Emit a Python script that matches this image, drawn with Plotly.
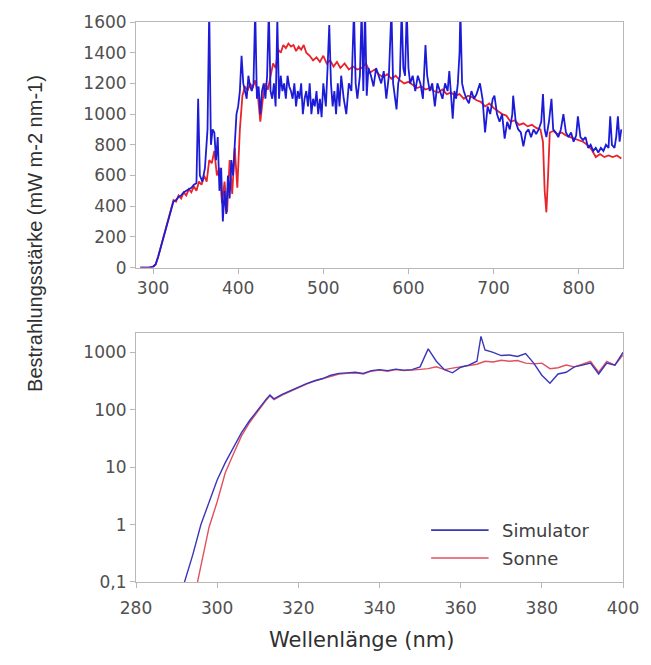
import plotly.graph_objects as go

# ---------------- data ----------------
# Top panel: linear irradiance, 280-850 nm
sun_top_nm = [285, 290, 295, 300, 303, 306, 309, 312, 315, 318, 321, 324, 327, 330, 333, 336, 339, 342, 345, 348,
              351, 354, 357, 360, 363, 366, 369, 372, 375, 378, 381, 384, 387, 390, 393, 396, 399, 402, 405, 408,
              411, 414, 417, 420, 423, 426, 429, 432, 435, 438, 441, 444, 447, 450, 453, 456, 459, 462, 465, 468,
              471, 474, 477, 480, 484, 488, 492, 496, 500, 504, 508, 512, 516, 520, 525, 530, 535, 540, 545, 550,
              555, 560, 565, 570, 575, 580, 585, 590, 595, 600, 605, 610, 615, 620, 625, 630, 635, 640, 645, 650,
              655, 660, 665, 670, 675, 680, 685, 690, 695, 700, 705, 710, 715, 720, 725, 730, 735, 740, 745, 750,
              755, 758, 760, 762, 764, 766, 770, 775, 780, 785, 790, 795, 800, 805, 810, 815, 820, 825, 830, 835,
              840, 845, 850]
sun_top = [0, 0, 0, 5, 20, 70, 130, 190, 250, 320, 380, 440, 430, 470, 450, 490, 470, 510, 490, 530,
           500, 560, 540, 600, 560, 700, 680, 760, 600, 650, 420, 560, 360, 700, 480, 780, 520, 900, 1120, 1180,
           1150, 1200, 1170, 1220, 1130, 950, 1100, 1200, 1160, 1250, 1330, 1300, 1420, 1400, 1450, 1430, 1460, 1440, 1450, 1410,
           1440, 1420, 1450, 1400, 1380, 1350, 1370, 1340, 1380, 1330, 1350, 1310, 1340, 1300, 1330, 1290, 1310, 1290, 1300, 1330,
           1270, 1290, 1260, 1240, 1260, 1230, 1250, 1220, 1200, 1210, 1190, 1170, 1180, 1160, 1170, 1150, 1140, 1160, 1130, 1140,
           1120, 1130, 1100, 1120, 1110, 1090, 1080, 1050, 1070, 1040, 1020, 1000, 990, 950, 960, 930, 940, 920, 930, 910,
           900, 820, 500, 360, 600, 880, 890, 870, 880, 860, 850, 840, 830, 820, 800, 770, 720, 740, 720, 730,
           720, 730, 710]

sim_top_nm = [285, 290, 295, 300, 303, 306, 309, 312, 315, 318, 321, 324, 327, 330, 333, 336, 339, 342, 345, 348,
              351, 353, 355, 358, 361, 364, 366, 368, 370, 372, 374, 376, 378, 380, 382, 384, 386, 388, 390, 392,
              394, 396, 398, 400, 402, 404, 406, 408, 410, 412, 414, 416, 418, 420, 422, 424, 426, 428, 430, 432,
              434, 436, 438, 440, 442, 444, 446, 448, 450, 452, 454, 456, 458, 460, 462, 464, 466, 468, 470, 472,
              474, 476, 478, 480, 482, 484, 486, 488, 490, 492, 494, 496, 498, 500, 503, 505, 507, 509, 511, 513,
              515, 517, 519, 521, 524, 527, 530, 533, 536, 538, 540, 543, 545, 547, 549, 551, 553, 556, 559, 562,
              565, 568, 571, 574, 577, 580, 582, 584, 586, 588, 590, 592, 594, 596, 598, 600, 602, 605, 608, 611,
              614, 617, 620, 622, 625, 628, 631, 634, 637, 640, 643, 646, 648, 650, 652, 654, 656, 658, 660, 661,
              663, 665, 668, 671, 674, 677, 680, 684, 687, 690, 693, 696, 699, 701, 704, 707, 710, 713, 716, 719,
              722, 723, 726, 729, 732, 735, 738, 741, 744, 747, 750, 753, 756, 758, 760, 762, 765, 768, 770, 773,
              776, 779, 782, 785, 788, 791, 794, 797, 799, 802, 805, 808, 811, 814, 817, 820, 823, 826, 829, 832,
              835, 837, 839, 842, 844, 846, 848, 850]
sim_top = [0, 0, 0, 5, 20, 70, 130, 190, 250, 310, 380, 430, 440, 460, 470, 490, 500, 510, 520, 540,
           550, 1100, 600, 560, 650, 900, 1680, 800, 900, 880, 700, 850, 500, 650, 300, 500, 350, 600, 450, 700,
           600, 800, 1000, 1050, 1150, 1380, 1200, 1150, 1100, 1250, 1180, 1150, 1200, 1680, 1100, 1180, 1000, 1150, 1200, 1100,
           1250, 1680, 1150, 1100, 1200, 1050, 1620, 1100, 1250, 1150, 1200, 1100, 1250, 1180, 1150, 1100, 1200, 1050, 1150, 1100,
           1200, 1000, 1100, 1150, 1050, 1200, 1000, 1100, 1050, 1150, 1000, 1100, 980, 1200, 1050, 1300, 1580, 1200, 1050, 1150,
           1000, 1200, 1050, 1250, 1100, 1000, 1200, 1150, 1680, 1200, 1100, 1250, 1680, 1150, 1680, 1120, 1300, 1250, 1180, 1300,
           1250, 1200, 1280, 1100, 1250, 1680, 1200, 1100, 1030, 1200, 1250, 1680, 1300, 1250, 1680, 1300, 1200, 1250, 1150, 1250,
           1200, 1100, 1450, 1250, 1150, 1200, 1050, 1200, 1150, 1100, 1200, 1150, 1280, 1100, 970, 1150, 1100, 1200, 1400, 1680,
           1200, 1150, 1100, 1070, 1150, 1100, 1130, 1200, 1100, 880, 1050, 1000, 1100, 1120, 1000, 950, 1000, 840, 950, 900,
           1000, 1120, 950, 900, 880, 790, 880, 900, 850, 900, 870, 900, 950, 1130, 900, 850, 950, 1100, 900, 880,
           850, 900, 1000, 880, 850, 880, 820, 860, 985, 850, 830, 850, 780, 800, 760, 780, 750, 780, 760, 800,
           780, 985, 800, 780, 850, 985, 820, 900]

# Bottom panel: logarithmic irradiance, 280-400 nm
sim_uv_nm = [291, 292, 294, 296, 298, 300, 302, 304, 306, 308, 310, 312, 313, 314, 316, 318, 320, 322, 324, 326,
             328, 330, 332, 334, 336, 338, 340, 342, 344, 346, 348, 350, 352, 354, 356, 358, 360, 362, 364, 365,
             366, 368, 370, 372, 374, 376, 378, 380, 382, 384, 386, 388, 390, 392, 394, 396, 398, 400]
sim_uv = [0.06, 0.1, 0.3, 1.0, 2.5, 6, 12, 22, 40, 65, 100, 150, 180, 155, 185, 215, 250, 285, 320, 350,
          400, 430, 440, 450, 430, 480, 500, 480, 510, 490, 500, 560, 1150, 700, 500, 440, 550, 600, 700, 1900,
          1100, 1000, 880, 900, 850, 950, 650, 400, 290, 420, 450, 560, 600, 650, 420, 650, 600, 1000]

sun_uv_nm = [294.5, 296, 298, 300, 302, 304, 306, 308, 310, 312, 313, 314, 316, 318, 320, 322, 324, 326, 328, 330,
             332, 334, 336, 338, 340, 342, 344, 346, 348, 350, 352, 354, 356, 358, 360, 362, 364, 366, 368, 370,
             372, 374, 376, 378, 380, 382, 384, 386, 388, 390, 392, 394, 396, 398, 400]
sun_uv = [0.06, 0.2, 0.9, 2.5, 8, 17, 35, 60, 95, 145, 175, 150, 180, 210, 245, 280, 315, 350, 390, 420,
          430, 440, 420, 470, 490, 470, 500, 480, 490, 500, 520, 560, 500, 530, 560, 600, 620, 700, 680, 730,
          700, 720, 650, 630, 650, 520, 540, 600, 560, 620, 700, 450, 700, 600, 900]

top_xticks = [300, 400, 500, 600, 700, 800]
top_yticks = [0, 200, 400, 600, 800, 1000, 1200, 1400, 1600]
uv_xticks = [280, 300, 320, 340, 360, 380, 400]
uv_yticks = [0.1, 1, 10, 100, 1000]
uv_yticktext = ["0,1", "1", "10", "100", "1000"]

series_names = ["Simulator", "Sonne"]
BLUE = "#1c1cd8"
RED = "#e8242a"

# ---------------- figure ----------------
fig = go.Figure()
fig.add_trace(go.Scatter(x=sun_top_nm, y=sun_top, mode="lines", line=dict(color=RED, width=1.8),
                         xaxis="x", yaxis="y", showlegend=False))
fig.add_trace(go.Scatter(x=sim_top_nm, y=sim_top, mode="lines", line=dict(color=BLUE, width=1.8),
                         xaxis="x", yaxis="y", showlegend=False))
fig.add_trace(go.Scatter(x=sun_uv_nm, y=sun_uv, mode="lines", line=dict(color="#e05060", width=1.4),
                         xaxis="x2", yaxis="y2", showlegend=False))
fig.add_trace(go.Scatter(x=sim_uv_nm, y=sim_uv, mode="lines", line=dict(color="#3a36b8", width=1.4),
                         xaxis="x2", yaxis="y2", showlegend=False))

TICKFONT = dict(family="DejaVu Sans", size=17, color="#505050")
axis_common = dict(showgrid=False, zeroline=False, showline=True, linecolor="#b8b8b8", linewidth=1,
                   mirror=True, ticks="outside", ticklen=5, tickcolor="#b8b8b8", tickfont=TICKFONT)

fig.update_layout(
    width=651, height=665,
    margin=dict(l=136, r=22, t=21, b=83),
    paper_bgcolor="white", plot_bgcolor="white",
    showlegend=False,
    xaxis=dict(domain=[0, 1], anchor="y", range=[280, 852], tickvals=top_xticks, **axis_common),
    yaxis=dict(domain=[0.5615, 1.0], anchor="x", range=[0, 1600], tickvals=top_yticks, **axis_common),
    xaxis2=dict(domain=[0, 1], anchor="y2", range=[280, 400], tickvals=uv_xticks,
                ticklabelstandoff=6, **axis_common),
    yaxis2=dict(domain=[0, 0.4439], anchor="x2", type="log", range=[-1, 3.33],
                tickvals=uv_yticks, ticktext=uv_yticktext, **axis_common),
)

# custom legend (lines + labels) inside the lower panel
legend_rows = [(0.0927, "#3a36b8"), (0.0428, "#e05060")]
for (yy, col), name in zip(legend_rows, series_names):
    fig.add_shape(type="line", xref="paper", yref="paper", x0=0.606, x1=0.724, y0=yy, y1=yy,
                  line=dict(color=col, width=1.6))
    fig.add_annotation(xref="paper", yref="paper", x=0.748, y=yy, text=name, showarrow=False,
                       xanchor="left", yanchor="middle",
                       font=dict(family="DejaVu Sans", size=18, color="#404040"))

# axis titles
fig.add_annotation(xref="paper", yref="paper", x=-0.209, y=0.622, text="Bestrahlungsstärke (mW m-2 nm-1)",
                   textangle=-90, showarrow=False, xanchor="center", yanchor="middle",
                   font=dict(family="Liberation Sans", size=20, color="#303030"))
fig.add_annotation(xref="paper", yref="paper", x=0.4625, y=-0.1034, text="Wellenlänge (nm)",
                   showarrow=False, xanchor="center", yanchor="middle",
                   font=dict(family="DejaVu Sans", size=21, color="#303030"))

fig.write_html("out.html")
